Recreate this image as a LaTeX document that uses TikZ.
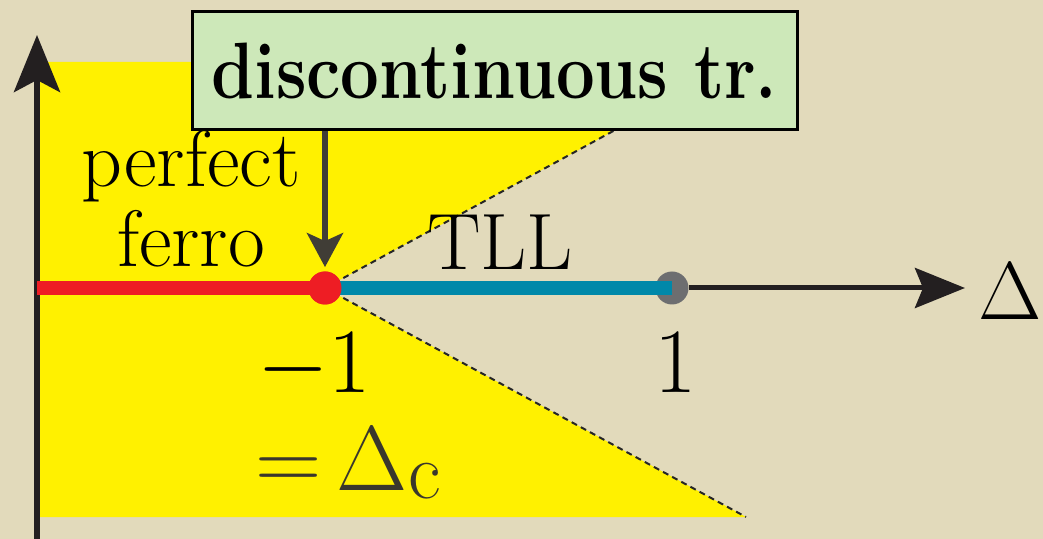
\RequirePackage{fix-cm}
\documentclass[tikz,border=0pt]{standalone}
\usetikzlibrary{arrows.meta}

\definecolor{parch}{HTML}{E2DABB}
\definecolor{ferroyellow}{HTML}{FFF100}
\definecolor{ferrored}{HTML}{EE1D24}
\definecolor{tllteal}{HTML}{0088A9}
\definecolor{dotgray}{HTML}{6D6E70}
\definecolor{boxgreen}{HTML}{CDE8B9}
\definecolor{arrowgray}{HTML}{403D36}
\definecolor{axisblack}{HTML}{231F20}
\definecolor{critgray}{HTML}{3A372C}

\begin{document}
\begin{tikzpicture}[
  x=0.5pt, y=-0.5pt,
  axisline/.style={draw=axisblack, line width=3pt},
  border/.style={draw=black!85, line width=1pt, dash pattern=on 3pt off 2.2pt},
  seg/.style={line width=7pt},
  dot/.style={circle, inner sep=0pt, minimum size=16.5pt},
  lbl/.style={inner sep=0pt, font=\fontsize{40}{40}\selectfont},
  num/.style={inner sep=0pt, font=\fontsize{46}{48}\selectfont},
  callout/.style={draw=black, line width=1.5pt, fill=boxgreen, minimum width=302.5pt,
    minimum height=59pt, inner sep=0pt, font=\fontsize{40}{40}\selectfont\bfseries},
  pointer/.style={draw=arrowgray, line width=3pt, -{Stealth[length=17pt, width=18pt, inset=4pt]}}
]
\useasboundingbox (0,0) rectangle (1043,539);
\fill[parch] (0,0) rectangle (1043,539);

% ferro region
\fill[ferroyellow] (40,62) -- (740,62) -- (325,288) -- (746,517) -- (40,517) -- cycle;
\draw[border] (325,288) -- (740,62);
\draw[border] (325,288) -- (746,517);

% axes
\draw[axisline, -{Stealth[length=28.5pt, width=23pt, inset=6pt]}] (37,545) -- (37,35);
\node[dot, fill=ferrored] (dc) at (325,288) {};
\node[dot, fill=dotgray] (iso) at (672,288) {};
\draw[seg, ferrored] (37,288) -- (dc.center);
\draw[seg, tllteal] (dc.center) -- (iso.center);
\node[dot, fill=ferrored] at (dc) {};
\draw[axisline, line width=2.5pt, -{Stealth[length=25pt, width=20pt, inset=4pt]}] (iso.east) -- (965,288);
\node[num, font=\fontsize{41}{42}\selectfont, anchor=base east] (dlabel) at (1042,320) {$\Delta$};

% labels
\node[lbl, anchor=north, align=center] (pferro) at (191,130) {perfect\\ferro};
\node[lbl, anchor=base] (tll) at (500,270) {TLL};
\node[num, anchor=base] (mone) at (314,393) {$-1$};
\node[num, anchor=base] (one) at (676,393) {1};
\node[num, anchor=base, text=critgray] (crit) at (348,490) {${=}\,\Delta$\raisebox{-4pt}{\fontsize{40}{40}\selectfont c}};

% transition box
\node[callout] (box) at (494.5,71) {\scalebox{0.86}[1]{discontinuous tr.}};
\draw[pointer, shorten >=2pt] (box.south -| dc.north) -- (dc.north);
\end{tikzpicture}
\end{document}
